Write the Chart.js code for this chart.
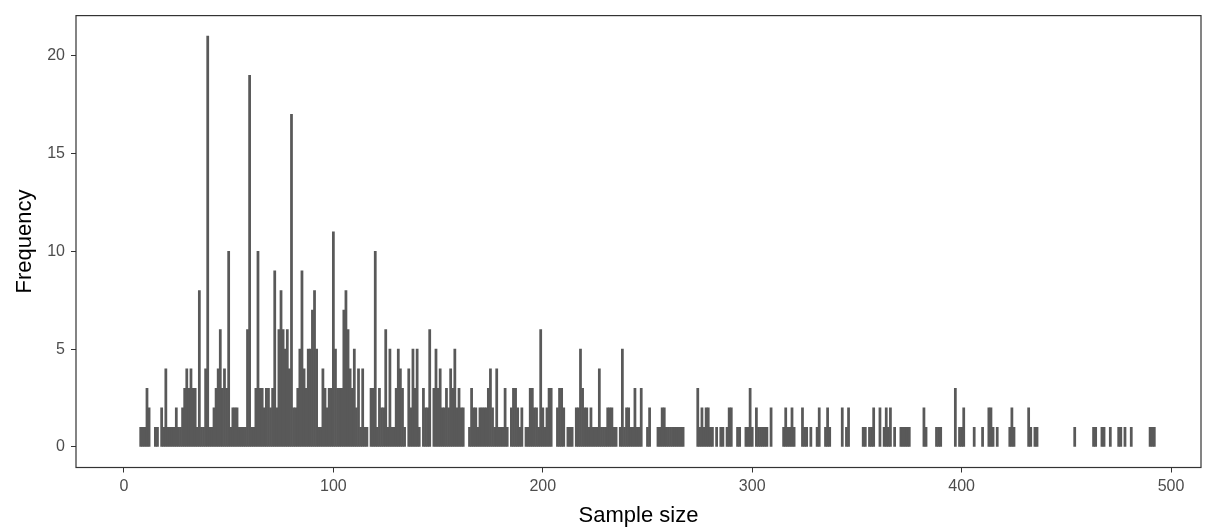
<!DOCTYPE html>
<html>
<head>
<meta charset="utf-8">
<script src="https://cdn.jsdelivr.net/npm/chart.js@4/dist/chart.umd.min.js"></script>
<style>
  html, body { margin: 0; padding: 0; background: #ffffff; }
  #wrap { width: 1215px; height: 527px; }
</style>
</head>
<body>
<div id="wrap"><canvas id="hist" width="1215" height="527"></canvas></div>
<script>
// Histogram of study sample sizes (bin width 1); only non-empty bins are listed.
const sampleSize = [
  8, 9, 10, 11, 12, 15, 16, 18, 19, 20, 21, 22, 23, 24, 25, 26, 27, 28, 29, 30,
  31, 32, 33, 34, 35, 36, 37, 38, 39, 40, 41, 42, 43, 44, 45, 46, 47, 48, 49, 50,
  51, 52, 53, 54, 55, 56, 57, 58, 59, 60, 61, 62, 63, 64, 65, 66, 67, 68, 69, 70,
  71, 72, 73, 74, 75, 76, 77, 78, 79, 80, 81, 82, 83, 84, 85, 86, 87, 88, 89, 90,
  91, 92, 93, 94, 95, 96, 97, 98, 99, 100, 101, 102, 103, 104, 105, 106, 107, 108, 109, 110,
  111, 112, 113, 114, 115, 116, 118, 119, 120, 121, 122, 123, 124, 125, 126, 127, 128, 129, 130, 131,
  132, 133, 134, 136, 137, 138, 139, 140, 141, 143, 144, 145, 146, 148, 149, 150, 151, 152, 153, 154,
  155, 156, 157, 158, 159, 160, 161, 162, 165, 166, 167, 168, 169, 170, 171, 172, 173, 174, 175, 176,
  177, 178, 179, 180, 181, 182, 183, 185, 186, 187, 188, 189, 190, 192, 193, 194, 195, 196, 197, 198,
  199, 200, 201, 202, 203, 204, 207, 208, 209, 210, 212, 213, 214, 216, 217, 218, 219, 220, 221, 222,
  223, 224, 225, 226, 227, 228, 229, 230, 231, 232, 233, 234, 235, 237, 238, 239, 240, 241, 242, 243,
  244, 245, 246, 247, 250, 251, 255, 256, 257, 258, 259, 260, 261, 262, 263, 264, 265, 266, 267, 274,
  275, 276, 277, 278, 279, 280, 281, 283, 285, 286, 288, 289, 290, 293, 294, 297, 298, 299, 300, 302,
  303, 304, 305, 306, 307, 309, 315, 316, 317, 318, 319, 320, 324, 325, 326, 328, 331, 332, 335, 336,
  337, 343, 345, 346, 353, 354, 356, 357, 358, 361, 363, 364, 365, 366, 368, 371, 372, 373, 374, 375,
  382, 383, 388, 389, 390, 397, 399, 400, 401, 406, 410, 413, 414, 415, 417, 423, 424, 425, 432, 433,
  435, 436, 454, 463, 464, 467, 468, 471, 475, 476, 478, 481, 490, 491, 492
];
const frequency = [
  1, 1, 1, 3, 2, 1, 1, 2, 1, 4, 1, 1, 1, 1, 2, 1, 1, 2, 3, 4,
  3, 4, 3, 3, 1, 8, 1, 1, 4, 21, 1, 1, 2, 3, 4, 6, 3, 4, 3, 10,
  1, 2, 2, 2, 1, 1, 1, 1, 6, 19, 1, 1, 3, 10, 3, 3, 2, 3, 3, 2,
  3, 9, 2, 6, 8, 6, 5, 6, 4, 17, 2, 2, 3, 5, 9, 4, 3, 5, 5, 7,
  8, 5, 1, 1, 4, 3, 2, 3, 3, 11, 5, 3, 3, 3, 7, 8, 6, 4, 3, 5,
  2, 4, 1, 4, 1, 1, 3, 3, 10, 1, 3, 2, 2, 6, 1, 5, 1, 1, 3, 5,
  4, 3, 1, 4, 2, 5, 3, 5, 1, 3, 2, 2, 6, 3, 5, 3, 4, 2, 2, 3,
  2, 4, 3, 5, 2, 3, 2, 2, 1, 3, 2, 2, 1, 2, 2, 2, 2, 3, 4, 2,
  1, 4, 1, 1, 1, 3, 1, 2, 3, 3, 2, 1, 2, 1, 1, 3, 3, 2, 2, 1,
  6, 2, 1, 2, 3, 3, 2, 3, 3, 2, 1, 1, 1, 2, 2, 5, 3, 2, 2, 1,
  2, 1, 1, 1, 4, 1, 1, 1, 2, 2, 2, 1, 1, 1, 5, 1, 2, 2, 1, 1,
  3, 1, 1, 3, 1, 2, 1, 1, 2, 2, 1, 1, 1, 1, 1, 1, 1, 1, 1, 3,
  1, 2, 1, 2, 2, 1, 1, 1, 1, 1, 1, 2, 2, 1, 1, 1, 1, 3, 1, 2,
  1, 1, 1, 1, 1, 2, 1, 2, 1, 1, 2, 1, 2, 1, 1, 1, 1, 2, 1, 2,
  1, 2, 1, 2, 1, 1, 1, 1, 2, 2, 1, 2, 1, 2, 1, 1, 1, 1, 1, 1,
  2, 1, 1, 1, 1, 3, 1, 1, 2, 1, 1, 2, 2, 1, 1, 1, 2, 1, 2, 1,
  1, 1, 1, 1, 1, 1, 1, 1, 1, 1, 1, 1, 1, 1, 1
];
const xTickValues = [0, 100, 200, 300, 400, 500];
const yTickValues = [0, 5, 10, 15, 20];

const inkDark = '#333333';
const inkTick = '#4d4d4d';
const barFill = '#595959';

// Full box around the plotting panel
const panelBorder = {
  id: 'panelBorder',
  afterDraw(chart) {
    const { ctx, chartArea: a } = chart;
    ctx.save();
    ctx.strokeStyle = inkDark;
    ctx.lineWidth = 1.2;
    ctx.strokeRect(a.left, a.top, a.right - a.left, a.bottom - a.top);
    ctx.restore();
  }
};

new Chart(document.getElementById('hist'), {
  type: 'bar',
  data: {
    datasets: [{
      data: sampleSize.map((s, i) => ({ x: s, y: frequency[i] })),
      backgroundColor: barFill,
      borderWidth: 0,
      barPercentage: 1,
      categoryPercentage: 1,
      grouped: false
    }]
  },
  options: {
    responsive: false,
    animation: false,
    devicePixelRatio: 1,
    layout: { padding: { top: 11, right: 14, left: 0, bottom: 0 } },
    plugins: { legend: { display: false }, tooltip: { enabled: false } },
    scales: {
      x: {
        type: 'linear',
        min: -22.9,
        max: 514.3,
        offset: false,
        afterBuildTicks(scale) { scale.ticks = xTickValues.map(v => ({ value: v })); },
        afterFit(scale) { scale.height = 527 - 467.5; },
        grid: { display: true, drawOnChartArea: false, offset: false, tickLength: 5, color: inkDark, tickWidth: 1 },
        border: { display: false },
        ticks: {
          autoSkip: false, maxRotation: 0, padding: 4, color: inkTick,
          font: { family: '"Liberation Sans", Arial, sans-serif', size: 16 },
          callback: v => String(v)
        },
        title: {
          display: true, text: 'Sample size', color: '#000000',
          font: { family: '"Liberation Sans", Arial, sans-serif', size: 22, lineHeight: 1 },
          padding: { top: 0, bottom: 0 }
        }
      },
      y: {
        type: 'linear',
        min: -1.05,
        max: 22.05,
        afterBuildTicks(scale) { scale.ticks = yTickValues.map(v => ({ value: v })); },
        afterFit(scale) { scale.width = 76; },
        grid: { display: true, drawOnChartArea: false, tickLength: 5, color: inkDark, tickWidth: 1 },
        border: { display: false },
        ticks: {
          autoSkip: false, padding: 6, color: inkTick,
          font: { family: '"Liberation Sans", Arial, sans-serif', size: 16 },
          callback: v => String(v)
        },
        title: {
          display: true, text: 'Frequency', color: '#000000',
          font: { family: '"Liberation Sans", Arial, sans-serif', size: 22, lineHeight: 1 },
          padding: { top: 14, bottom: 0 }
        }
      }
    }
  },
  plugins: [panelBorder]
});
</script>
</body>
</html>
